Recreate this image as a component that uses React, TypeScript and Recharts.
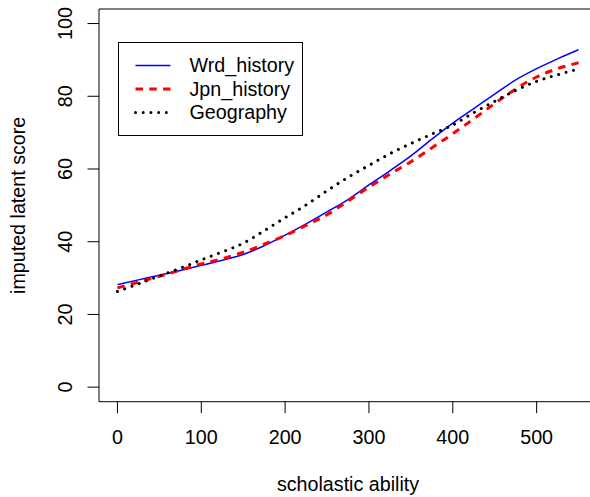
import React from 'react';
import { LineChart, Line, XAxis, YAxis, ReferenceLine } from 'recharts';

const abilities = [0, 25, 50, 75, 100, 125, 150, 175, 200, 225, 250, 275, 300, 325, 350, 375, 400, 425, 450, 475, 500, 525, 550];
const wrdHistory = [28.2, 29.5, 30.8, 32.1, 33.5, 34.9, 36.5, 38.9, 41.8, 44.9, 48.2, 51.6, 55.6, 59.5, 63.6, 68.2, 72.6, 76.6, 80.6, 84.5, 87.6, 90.3, 92.8];
const jpnHistory = [27.3, 28.9, 30.5, 32.2, 33.9, 35.3, 37.1, 39.3, 41.7, 44.5, 47.4, 51.2, 55.0, 58.6, 62.0, 65.8, 69.7, 73.8, 78.0, 82.0, 85.3, 87.6, 89.2];
const geography = [26.3, 28.4, 30.6, 32.7, 35.0, 37.2, 39.6, 43.0, 46.6, 50.1, 54.0, 57.7, 61.0, 64.2, 67.0, 69.6, 72.1, 75.5, 78.6, 81.6, 84.1, 85.9, 87.5];
const xTicks = [0, 100, 200, 300, 400, 500];
const yTicks = [0, 20, 40, 60, 80, 100];
const seriesNames = ['Wrd_history', 'Jpn_history', 'Geography'];
const xTitle = 'scholastic ability';
const yTitle = 'imputed latent score';

const X_DOMAIN = [-22, 572];
const Y_DOMAIN = [-4, 104];

const FONT = '"Liberation Sans", Arial, Helvetica, sans-serif';
const FS = 19.7;

const seriesStyles = [
  { key: 'wrd', color: '#0000FF', width: 1.5, dash: undefined as string | undefined, cap: 'butt' },
  { key: 'jpn', color: '#FF0000', width: 3, dash: '7.5 6.3', cap: 'butt' },
  { key: 'geo', color: '#000000', width: 3, dash: '0.01 7.7', cap: 'round' },
];

const data = abilities.map((x, i) => ({
  x,
  wrd: wrdHistory[i],
  jpn: jpnHistory[i],
  geo: geography[i],
}));

const XTick = (props: any) => {
  const { x, y, payload } = props;
  return (
    <text x={x} y={y} dy={30.5} textAnchor="middle" fontFamily={FONT} fontSize={FS} fill="#000">
      {payload.value}
    </text>
  );
};

const YTick = (props: any) => {
  const { x, y, payload } = props;
  return (
    <text transform={`translate(${x - 15.8},${y}) rotate(-90)`} textAnchor="middle" fontFamily={FONT} fontSize={FS} fill="#000">
      {payload.value}
    </text>
  );
};

const XTitle = (props: any) => {
  const vb = props.viewBox;
  return (
    <text x={vb.x + vb.width / 2} y={vb.y + 89.3} textAnchor="middle" fontFamily={FONT} fontSize={FS} fill="#000">
      {xTitle}
    </text>
  );
};

const YTitle = (props: any) => {
  const vb = props.viewBox;
  return (
    <text transform={`translate(25,${vb.y + vb.height / 2}) rotate(-90)`} textAnchor="middle" fontFamily={FONT} fontSize={FS} fill="#000">
      {yTitle}
    </text>
  );
};

const LegendBox = () => (
  <svg width={186} height={95} style={{ position: 'absolute', left: 117.5, top: 41.5 }}>
    <rect x={0.5} y={0.5} width={184} height={93} fill="#fff" stroke="#000" strokeWidth={1} />
    {seriesNames.map((name, i) => {
      const s = seriesStyles[i];
      const cy = 23.5 + i * 23.5;
      return (
        <g key={name}>
          <line x1={17.5} x2={52.5} y1={cy} y2={cy} stroke={s.color} strokeWidth={s.width}
            strokeDasharray={s.dash} strokeLinecap={s.cap as any} />
          <text x={71.5} y={cy + 6.9} fontFamily={FONT} fontSize={FS} fill="#000">{name}</text>
        </g>
      );
    })}
  </svg>
);

export default function App() {
  return (
    <div style={{ position: 'fixed', left: 0, top: 0, width: 590, height: 497, background: '#fff', overflow: 'hidden' }}>
      <LineChart width={590} height={497} data={data} margin={{ top: 9, right: -7, left: 0, bottom: 0 }}>
        <XAxis
          dataKey="x"
          type="number"
          domain={X_DOMAIN}
          ticks={xTicks}
          allowDataOverflow
          axisLine={false}
          tickLine={{ stroke: '#000', strokeWidth: 1 }}
          tickSize={11.5}
          tickMargin={0}
          height={95.3}
          tick={<XTick />}
          interval={0}
          label={<XTitle />}
        />
        <YAxis
          type="number"
          domain={Y_DOMAIN}
          ticks={yTicks}
          allowDataOverflow
          axisLine={false}
          tickLine={{ stroke: '#000', strokeWidth: 1 }}
          tickSize={11.5}
          tickMargin={0}
          width={99}
          tick={<YTick />}
          interval={0}
          label={<YTitle />}
        />
        <ReferenceLine y={Y_DOMAIN[1]} stroke="#000" strokeWidth={1} ifOverflow="visible" />
        <ReferenceLine y={Y_DOMAIN[0]} stroke="#000" strokeWidth={1} ifOverflow="visible" />
        <ReferenceLine x={X_DOMAIN[0]} stroke="#000" strokeWidth={1} ifOverflow="visible" />
        {seriesStyles.map((s, i) => (
          <Line
            key={s.key}
            dataKey={s.key}
            name={seriesNames[i]}
            type="monotone"
            stroke={s.color}
            strokeWidth={s.width}
            strokeDasharray={s.dash}
            strokeLinecap={s.cap as any}
            dot={false}
            activeDot={false}
            isAnimationActive={false}
          />
        ))}
      </LineChart>
      <LegendBox />
    </div>
  );
}
